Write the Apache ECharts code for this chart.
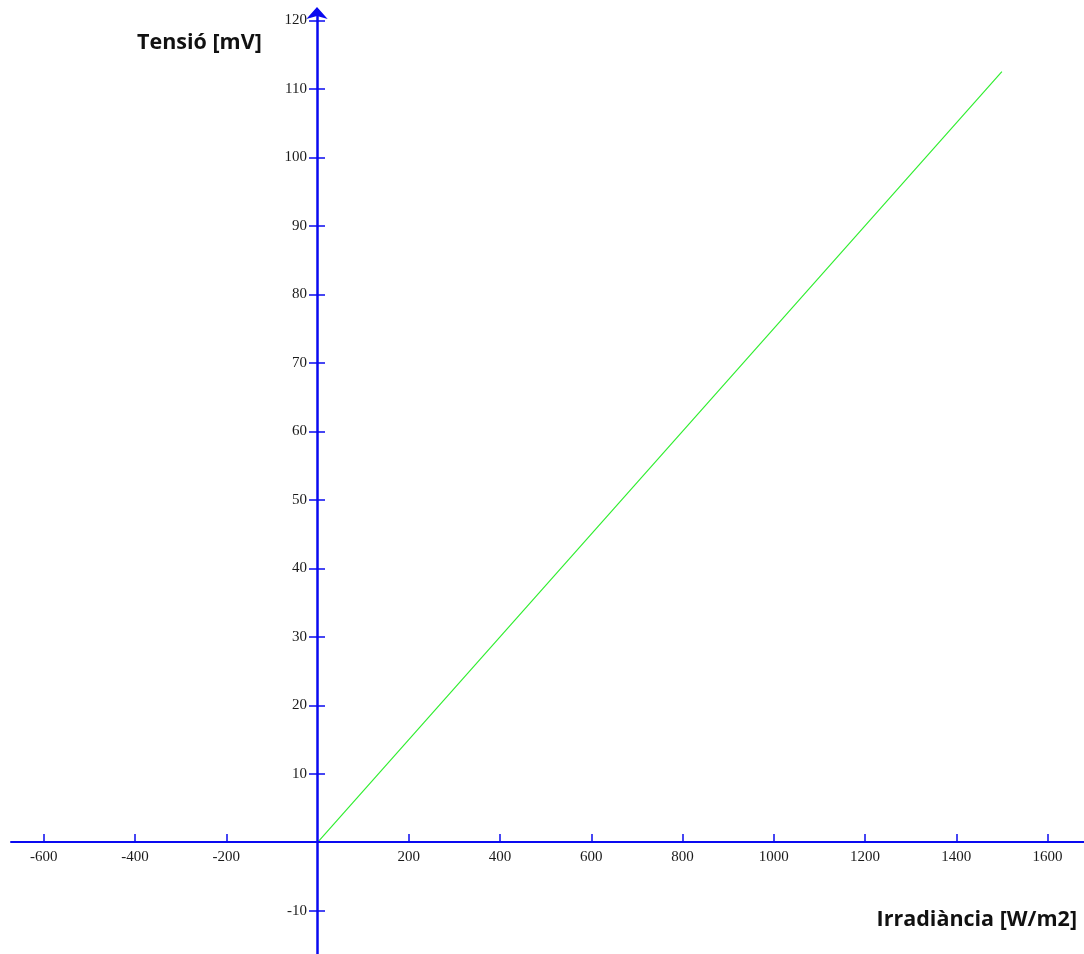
<!DOCTYPE html>
<html>
<head>
<meta charset="utf-8">
<script src="https://cdn.jsdelivr.net/npm/echarts@6/dist/echarts.min.js"></script>
<style>html,body{margin:0;padding:0;background:#fff}#c{width:1084px;height:954px}</style>
</head>
<body>
<div id="c"></div>
<script>
const xTicks = [-600, -400, -200, 200, 400, 600, 800, 1000, 1200, 1400, 1600];
const yTicks = [-10, 10, 20, 30, 40, 50, 60, 70, 80, 90, 100, 110, 120];
const irradiance = [-672, 0, 1500];
const voltage = [0, 0, 112.5];
const xRange = [-672, 1680];
const yRange = [-16.3, 121.5];

const blue = '#0a0af0';
const labelFont = { fontFamily: 'Liberation Serif', fontSize: 15, color: '#1a1a1a' };
const fmt = v => String(v);

const hidden = { show: false };
const chart = echarts.init(document.getElementById('c'));
chart.setOption({
  animation: false,
  grid: [
    { left: 11, right: 0, top: 10, bottom: 0, outerBoundsMode: 'none', containLabel: false },
    { left: 11, right: 0, top: 10, bottom: 112, outerBoundsMode: 'none', containLabel: false },
    { left: 317, right: 0, top: 10, bottom: 0, outerBoundsMode: 'none', containLabel: false }
  ],
  xAxis: [
    { gridIndex: 0, type: 'value', min: xRange[0], max: xRange[1], axisLine: hidden, axisTick: hidden, axisLabel: hidden, splitLine: hidden },
    {
      gridIndex: 1, type: 'value', min: xRange[0], max: xRange[1], position: 'bottom', z: 5,
      axisLine: { show: true, onZero: false, lineStyle: { color: blue, width: 2 } },
      axisTick: { show: true, inside: true, length: 8, customValues: xTicks, lineStyle: { color: blue, width: 1.5 } },
      axisLabel: Object.assign({ customValues: xTicks, margin: 8, formatter: fmt }, labelFont),
      splitLine: hidden
    },
    { gridIndex: 2, type: 'value', min: xRange[0], max: xRange[1], axisLine: hidden, axisTick: hidden, axisLabel: hidden, splitLine: hidden }
  ],
  yAxis: [
    { gridIndex: 0, type: 'value', min: yRange[0], max: yRange[1], axisLine: hidden, axisTick: hidden, axisLabel: hidden, splitLine: hidden },
    { gridIndex: 1, type: 'value', axisLine: hidden, axisTick: hidden, axisLabel: hidden, splitLine: hidden },
    {
      gridIndex: 2, type: 'value', min: yRange[0], max: yRange[1], position: 'left', z: 5,
      axisLine: { show: true, onZero: false, symbol: ['none', 'arrow'], symbolSize: [16, 12], symbolOffset: [0, 3], lineStyle: { color: blue, width: 2.5 } },
      axisTick: { show: true, length: 8, customValues: yTicks, lineStyle: { color: blue, width: 1.5 } },
      axisLabel: Object.assign({ customValues: yTicks, margin: 10, formatter: fmt }, labelFont),
      splitLine: hidden
    },
    {
      gridIndex: 2, type: 'value', min: yRange[0], max: yRange[1], position: 'left', offset: 0, z: 5,
      axisLine: { show: false, onZero: false },
      axisTick: { show: true, inside: true, length: 8, customValues: yTicks, lineStyle: { color: blue, width: 1.5 } },
      axisLabel: hidden,
      splitLine: hidden
    }
  ],
  series: [{
    type: 'line', xAxisIndex: 0, yAxisIndex: 0,
    data: irradiance.map((x, i) => [x, voltage[i]]),
    showSymbol: false, symbol: 'none',
    lineStyle: { color: '#33ee33', width: 1.2 },
    z: 2
  }],
  graphic: [
    { type: 'text', x: 137, y: 43, style: { text: 'Tensió [mV]', font: 'bold 21.5px "Open Sans"', fill: '#111', align: 'left', verticalAlign: 'middle' } },
    { type: 'text', x: 1077, y: 920, style: { text: 'Irradiància [W/m2]', font: 'bold 21.5px "Open Sans"', fill: '#111', align: 'right', verticalAlign: 'middle' } }
  ]
});
</script>
</body>
</html>
